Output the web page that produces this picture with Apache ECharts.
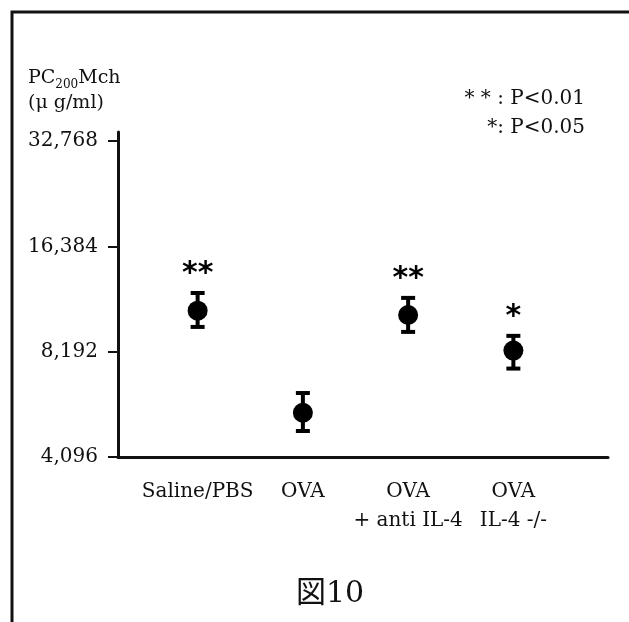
<!DOCTYPE html>
<html>
<head>
<meta charset="utf-8">
<script src="https://cdn.jsdelivr.net/npm/echarts@6/dist/echarts.min.js"></script>
<style>html,body{margin:0;padding:0;background:#fff}#c{width:629px;height:622px}</style>
</head>
<body>
<div id="c"></div>
<script>
// ---- data ----
var categories = ['Saline/PBS', 'OVA', 'OVA\n+ anti IL-4', 'OVA\nIL-4 -/-'];
var means = [10730, 5480, 10430, 8250];
var upper = [12050, 6240, 11670, 9090];
var lower = [9640, 4860, 9330, 7330];
var significance = ['**', '', '**', '*'];
var yMin = 4096, yMax = 32768;

var FONT = '"DejaVu Serif", "Noto Sans CJK JP", serif';
var INK = '#111';

var errData = categories.map(function (c, i) { return [i, lower[i], upper[i], significance[i]]; });

var chart = echarts.init(document.getElementById('c'), null, {renderer: 'canvas'});
chart.setOption({
  backgroundColor: '#fff',
  animation: false,
  title: {
    text: '図10', left: 291, top: 574,
    textStyle: {fontFamily: FONT, fontSize: 30, fontWeight: 'normal', color: INK}
  },
  grid: [
    {left: 118, right: 21, top: 132, bottom: 165},
    {left: 145, right: 63, top: 141, bottom: 165}
  ],
  xAxis: [
    {gridIndex: 0, type: 'value', min: 0, max: 1, axisLine: {show: true, lineStyle: {color: INK, width: 3}},
     axisTick: {show: false}, axisLabel: {show: false}, splitLine: {show: false}},
    {gridIndex: 1, type: 'category', data: categories, boundaryGap: true,
     axisLine: {show: false}, axisTick: {show: false}, splitLine: {show: false},
     axisLabel: {margin: 20, fontFamily: FONT, fontSize: 20, color: INK, lineHeight: 29, interval: 0}}
  ],
  yAxis: [
    {gridIndex: 0, type: 'value', min: 0, max: 1, axisLine: {show: true, lineStyle: {color: INK, width: 3}},
     axisTick: {show: false}, axisLabel: {show: false}, splitLine: {show: false}},
    {gridIndex: 1, type: 'log', logBase: 2, min: yMin, max: yMax, offset: 27,
     axisLine: {show: false}, splitLine: {show: false}, minorTick: {show: false},
     axisTick: {show: true, length: 10, inside: false, lineStyle: {color: INK, width: 2}},
     axisLabel: {margin: 20, fontFamily: FONT, fontSize: 20, color: INK,
       formatter: function (v) { return Math.round(v).toLocaleString('en-US'); }}}
  ],
  series: [
    {
      type: 'custom', xAxisIndex: 1, yAxisIndex: 1, data: errData,
      encode: {x: 0, y: [1, 2]},
      renderItem: function (params, api) {
        var i = api.value(0);
        var lo = api.coord([i, api.value(1)]);
        var hi = api.coord([i, api.value(2)]);
        var sig = significance[params.dataIndex];
        var hw = 7;
        var style = {stroke: '#000', lineWidth: 4};
        var children = [
          {type: 'line', shape: {x1: hi[0], y1: hi[1], x2: lo[0], y2: lo[1]}, style: {stroke: '#000', lineWidth: 4}},
          {type: 'line', shape: {x1: hi[0] - hw, y1: hi[1], x2: hi[0] + hw, y2: hi[1]}, style: style},
          {type: 'line', shape: {x1: lo[0] - hw, y1: lo[1], x2: lo[0] + hw, y2: lo[1]}, style: style}
        ];
        if (sig) {
          children.push({type: 'text', style: {text: sig, x: hi[0], y: hi[1] - 19,
            align: 'center', verticalAlign: 'middle', fontFamily: '"DejaVu Sans", sans-serif',
            fontWeight: 'bold', fontSize: 30, fill: '#000'}});
        }
        return {type: 'group', children: children};
      },
      z: 2
    },
    {
      type: 'scatter', xAxisIndex: 1, yAxisIndex: 1, data: means,
      symbol: 'circle', symbolSize: 20, itemStyle: {color: '#000', opacity: 1}, z: 3
    }
  ],
  graphic: [
    {type: 'polyline', shape: {points: [[12, 622], [12, 12], [629, 12]]}, style: {stroke: INK, lineWidth: 3, fill: null}},
    {type: 'text', left: 28, top: 69, style: {
      text: '{a|PC}{s|200}{a|Mch}\n{a|(μ g/ml)}',
      rich: {a: {fontFamily: FONT, fontSize: 19, fill: INK, lineHeight: 25},
             s: {fontFamily: FONT, fontSize: 12, fill: INK, lineHeight: 25, verticalAlign: 'bottom'}}}},
    {type: 'text', right: 44, top: 89, style: {text: '* * : P<0.01', fontFamily: FONT, fontSize: 20, fill: INK}},
    {type: 'text', right: 44, top: 118, style: {text: '*: P<0.05', fontFamily: FONT, fontSize: 20, fill: INK}}
  ]
});
</script>
</body>
</html>
